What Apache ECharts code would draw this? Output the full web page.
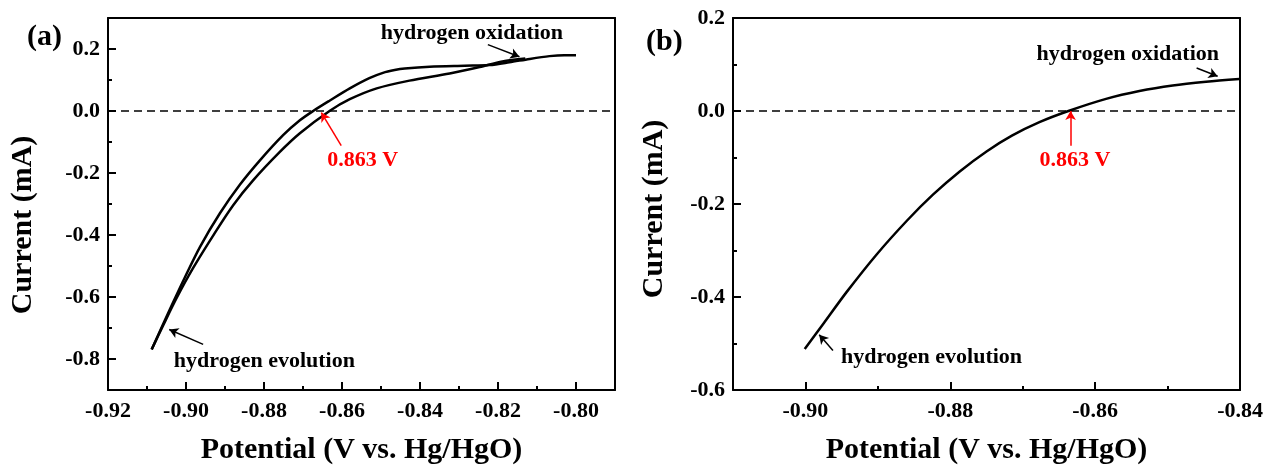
<!DOCTYPE html>
<html><head><meta charset="utf-8">
<script src="https://cdn.jsdelivr.net/npm/echarts@6/dist/echarts.min.js"></script>
<style>html,body{margin:0;padding:0;background:#fff}#c{width:1266px;height:470px}</style>
</head><body><div id="c"></div>
<script>
// ---------- data ----------
// panel (a): cyclic voltammogram, two branches
const aUpperBranch = [
  [-0.9088,-0.769],[-0.9060,-0.691],[-0.9033,-0.617],[-0.9003,-0.537],[-0.8964,-0.438],
  [-0.8913,-0.330],[-0.8862,-0.238],[-0.8811,-0.160],[-0.8751,-0.078],[-0.8708,-0.030],
  [-0.8674,0.000],[-0.8631,0.034],[-0.8580,0.073],[-0.8530,0.106],[-0.8495,0.123],
  [-0.8465,0.132],[-0.8439,0.137],[-0.8375,0.143],[-0.8286,0.146],[-0.8222,0.148],
  [-0.8171,0.157],[-0.8119,0.168],[-0.8068,0.177],[-0.8030,0.180],[-0.8000,0.180]
];
const aLowerBranch = [
  [-0.9088,-0.769],[-0.9058,-0.690],[-0.9024,-0.603],[-0.8982,-0.507],[-0.8930,-0.401],
  [-0.8879,-0.304],[-0.8828,-0.224],[-0.8760,-0.133],[-0.8708,-0.072],[-0.8632,0.000],
  [-0.8580,0.038],[-0.8511,0.073],[-0.8427,0.098],[-0.8324,0.121],[-0.8247,0.142],
  [-0.8189,0.160],[-0.8130,0.169]
];
// panel (b): linear sweep
const bCurve = [
  [-0.9001,-0.512],[-0.8975,-0.457],[-0.8943,-0.389],[-0.8902,-0.309],[-0.8860,-0.236],
  [-0.8824,-0.180],[-0.8787,-0.130],[-0.8750,-0.087],[-0.8715,-0.053],[-0.8677,-0.024],
  [-0.8637,0.000],[-0.8585,0.026],[-0.8539,0.043],[-0.8493,0.055],[-0.8447,0.063],
  [-0.8401,0.069]
];
// axis ranges and ticks
const aXRange = [-0.92, -0.79];
const aYRange = [-0.9, 0.3];
const aXTicks = [-0.92,-0.90,-0.88,-0.86,-0.84,-0.82,-0.80];
const aXMinor = [-0.91,-0.89,-0.87,-0.85,-0.83,-0.81];
const aYTicks = [-0.8,-0.6,-0.4,-0.2,0.0,0.2];
const aYMinor = [-0.7,-0.5,-0.3,-0.1,0.1];
const bXRange = [-0.91, -0.84];
const bYRange = [-0.6, 0.2];
const bXTicks = [-0.90,-0.88,-0.86,-0.84];
const bXMinor = [-0.89,-0.87,-0.85];
const bYTicks = [-0.6,-0.4,-0.2,0.0,0.2];
const bYMinor = [-0.5,-0.3,-0.1,0.1];
// texts
const xTitle = 'Potential (V vs. Hg/HgO)';
const yTitle = 'Current (mA)';
const panelLabels = ['(a)','(b)'];
const noteOx = 'hydrogen oxidation';
const noteEv = 'hydrogen evolution';
const noteV = '0.863 V';
// annotation anchor points (data space)
const aNoteOxAt = [-0.8267, 0.251];
const aNoteEvAt = [-0.8799, -0.806];
const aNoteVAt  = [-0.8547, -0.160];
const aArrowOx = [[-0.8226, 0.214], [-0.8145, 0.175]];
const aArrowEv = [[-0.8956, -0.753], [-0.9043, -0.705]];
const aArrowV  = [[-0.8602, -0.112], [-0.8653, -0.005]];
const bNoteOxAt = [-0.8555, 0.121];
const bNoteEvAt = [-0.8826, -0.529];
const bNoteVAt  = [-0.8628, -0.1066];
const bArrowOx = [[-0.8460, 0.0925], [-0.8431, 0.0746]];
const bArrowEv = [[-0.8962, -0.515], [-0.8981, -0.481]];
const bArrowV  = [[-0.8634, -0.0746], [-0.8634, 0.0]];

// ---------- styling / builders ----------
const FONT = '"Liberation Serif","Times New Roman",serif';
const BLACK = '#000', RED = '#ff0000';
const txt = (size, color) => ({fontFamily: FONT, fontWeight: 'bold', fontSize: size, color: color || BLACK});

function mainX(gi, r, ticks, gap) {
  return {type:'value', gridIndex:gi, position:'bottom', min:r[0], max:r[1],
    name:xTitle, nameLocation:'middle', nameGap:gap, nameTextStyle:txt(30),
    axisLine:{show:true, onZero:false, lineStyle:{color:BLACK, width:2}},
    axisTick:{show:true, inside:true, length:8, customValues:ticks, lineStyle:{color:BLACK, width:2}},
    axisLabel:{show:true, customValues:ticks, margin:10, formatter:v=>v.toFixed(2), ...txt(22)},
    splitLine:{show:false}};
}
function minorX(gi, r, ticks) {
  return {type:'value', gridIndex:gi, position:'bottom', min:r[0], max:r[1],
    axisLine:{show:false, onZero:false},
    axisTick:{show:true, inside:true, length:4, customValues:ticks, lineStyle:{color:BLACK, width:2}},
    axisLabel:{show:false}, splitLine:{show:false}};
}
function frameX(gi, r) {
  return {type:'value', gridIndex:gi, position:'top', min:r[0], max:r[1],
    axisLine:{show:true, onZero:false, lineStyle:{color:BLACK, width:2}},
    axisTick:{show:false}, axisLabel:{show:false}, splitLine:{show:false}};
}
function mainY(gi, r, ticks, gap, pad) {
  return {type:'value', gridIndex:gi, position:'left', min:r[0], max:r[1],
    name:yTitle, nameLocation:'middle', nameGap:gap, nameTextStyle:{...txt(30), padding:pad},
    axisLine:{show:true, onZero:false, lineStyle:{color:BLACK, width:2}},
    axisTick:{show:true, inside:true, length:8, customValues:ticks, lineStyle:{color:BLACK, width:2}},
    axisLabel:{show:true, customValues:ticks, margin:8, formatter:v=>v.toFixed(1), ...txt(22)},
    splitLine:{show:false}};
}
function minorY(gi, r, ticks) {
  return {type:'value', gridIndex:gi, position:'left', min:r[0], max:r[1],
    axisLine:{show:false, onZero:false},
    axisTick:{show:true, inside:true, length:4, customValues:ticks, lineStyle:{color:BLACK, width:2}},
    axisLabel:{show:false}, splitLine:{show:false}};
}
function frameY(gi, r) {
  return {type:'value', gridIndex:gi, position:'right', min:r[0], max:r[1],
    axisLine:{show:true, onZero:false, lineStyle:{color:BLACK, width:2}},
    axisTick:{show:false}, axisLabel:{show:false}, splitLine:{show:false}};
}
function arrow(pair, color) {
  const ls = {color, width:1.5, type:'solid'};
  return [{coord:pair[0], symbol:'none', lineStyle:ls},
          {coord:pair[1], symbol:'arrow', lineStyle:ls}];
}
function zeroLine(xr) {
  const ls = {color:BLACK, width:1.5, type:[8,5]};
  return [{coord:[xr[0],0], symbol:'none', lineStyle:ls},
          {coord:[xr[1],0], symbol:'none', lineStyle:ls}];
}
function note(name, at, color, size) {
  return {name, coord:at, symbolSize:0, label:{show:true, position:'inside', formatter:'{b}', ...txt(size, color)}};
}
function curve(data, xi, yi, marks) {
  return Object.assign({type:'line', xAxisIndex:xi, yAxisIndex:yi, data, showSymbol:false, symbol:'none',
    smooth:0.3, lineStyle:{color:BLACK, width:2.5}, silent:true, z:3}, marks || {});
}
function marks(xr, arrows, notes) {
  return {
    markLine:{silent:true, animation:false, symbolSize:[8,9], label:{show:false},
      lineStyle:{type:'solid'}, emphasis:{disabled:true}, data:[zeroLine(xr), ...arrows]},
    markPoint:{silent:true, animation:false, data:notes}
  };
}

const option = {
  animation:false,
  backgroundColor:'#fff',
  title:[
    {text:panelLabels[0], left:27, top:22, padding:0, textStyle:txt(30)},
    {text:panelLabels[1], left:646, top:27, padding:0, textStyle:txt(30)}
  ],
  grid:[
    {left:108, top:18, width:507, height:375},
    {left:733, top:18, width:509, height:375}
  ],
  xAxis:[
    mainX(0, aXRange, aXTicks, 45), minorX(0, aXRange, aXMinor), frameX(0, aXRange),
    mainX(1, bXRange, bXTicks, 45), minorX(1, bXRange, bXMinor), frameX(1, bXRange)
  ],
  yAxis:[
    mainY(0, aYRange, aYTicks, 70, [0,42,0,0]), minorY(0, aYRange, aYMinor), frameY(0, aYRange),
    mainY(1, bYRange, bYTicks, 64, [0,10,0,0]), minorY(1, bYRange, bYMinor), frameY(1, bYRange)
  ],
  series:[
    curve(aUpperBranch, 0, 0, marks(aXRange,
      [arrow(aArrowOx, BLACK), arrow(aArrowEv, BLACK), arrow(aArrowV, RED)],
      [note(noteOx, aNoteOxAt, BLACK, 22), note(noteEv, aNoteEvAt, BLACK, 22), note(noteV, aNoteVAt, RED, 22)])),
    curve(aLowerBranch, 0, 0),
    curve(bCurve, 3, 3, marks(bXRange,
      [arrow(bArrowOx, BLACK), arrow(bArrowEv, BLACK), arrow(bArrowV, RED)],
      [note(noteOx, bNoteOxAt, BLACK, 22), note(noteEv, bNoteEvAt, BLACK, 22), note(noteV, bNoteVAt, RED, 22)]))
  ]
};
const chart = echarts.init(document.getElementById('c'), null, {renderer:'canvas'});
chart.setOption(option);
</script></body></html>
